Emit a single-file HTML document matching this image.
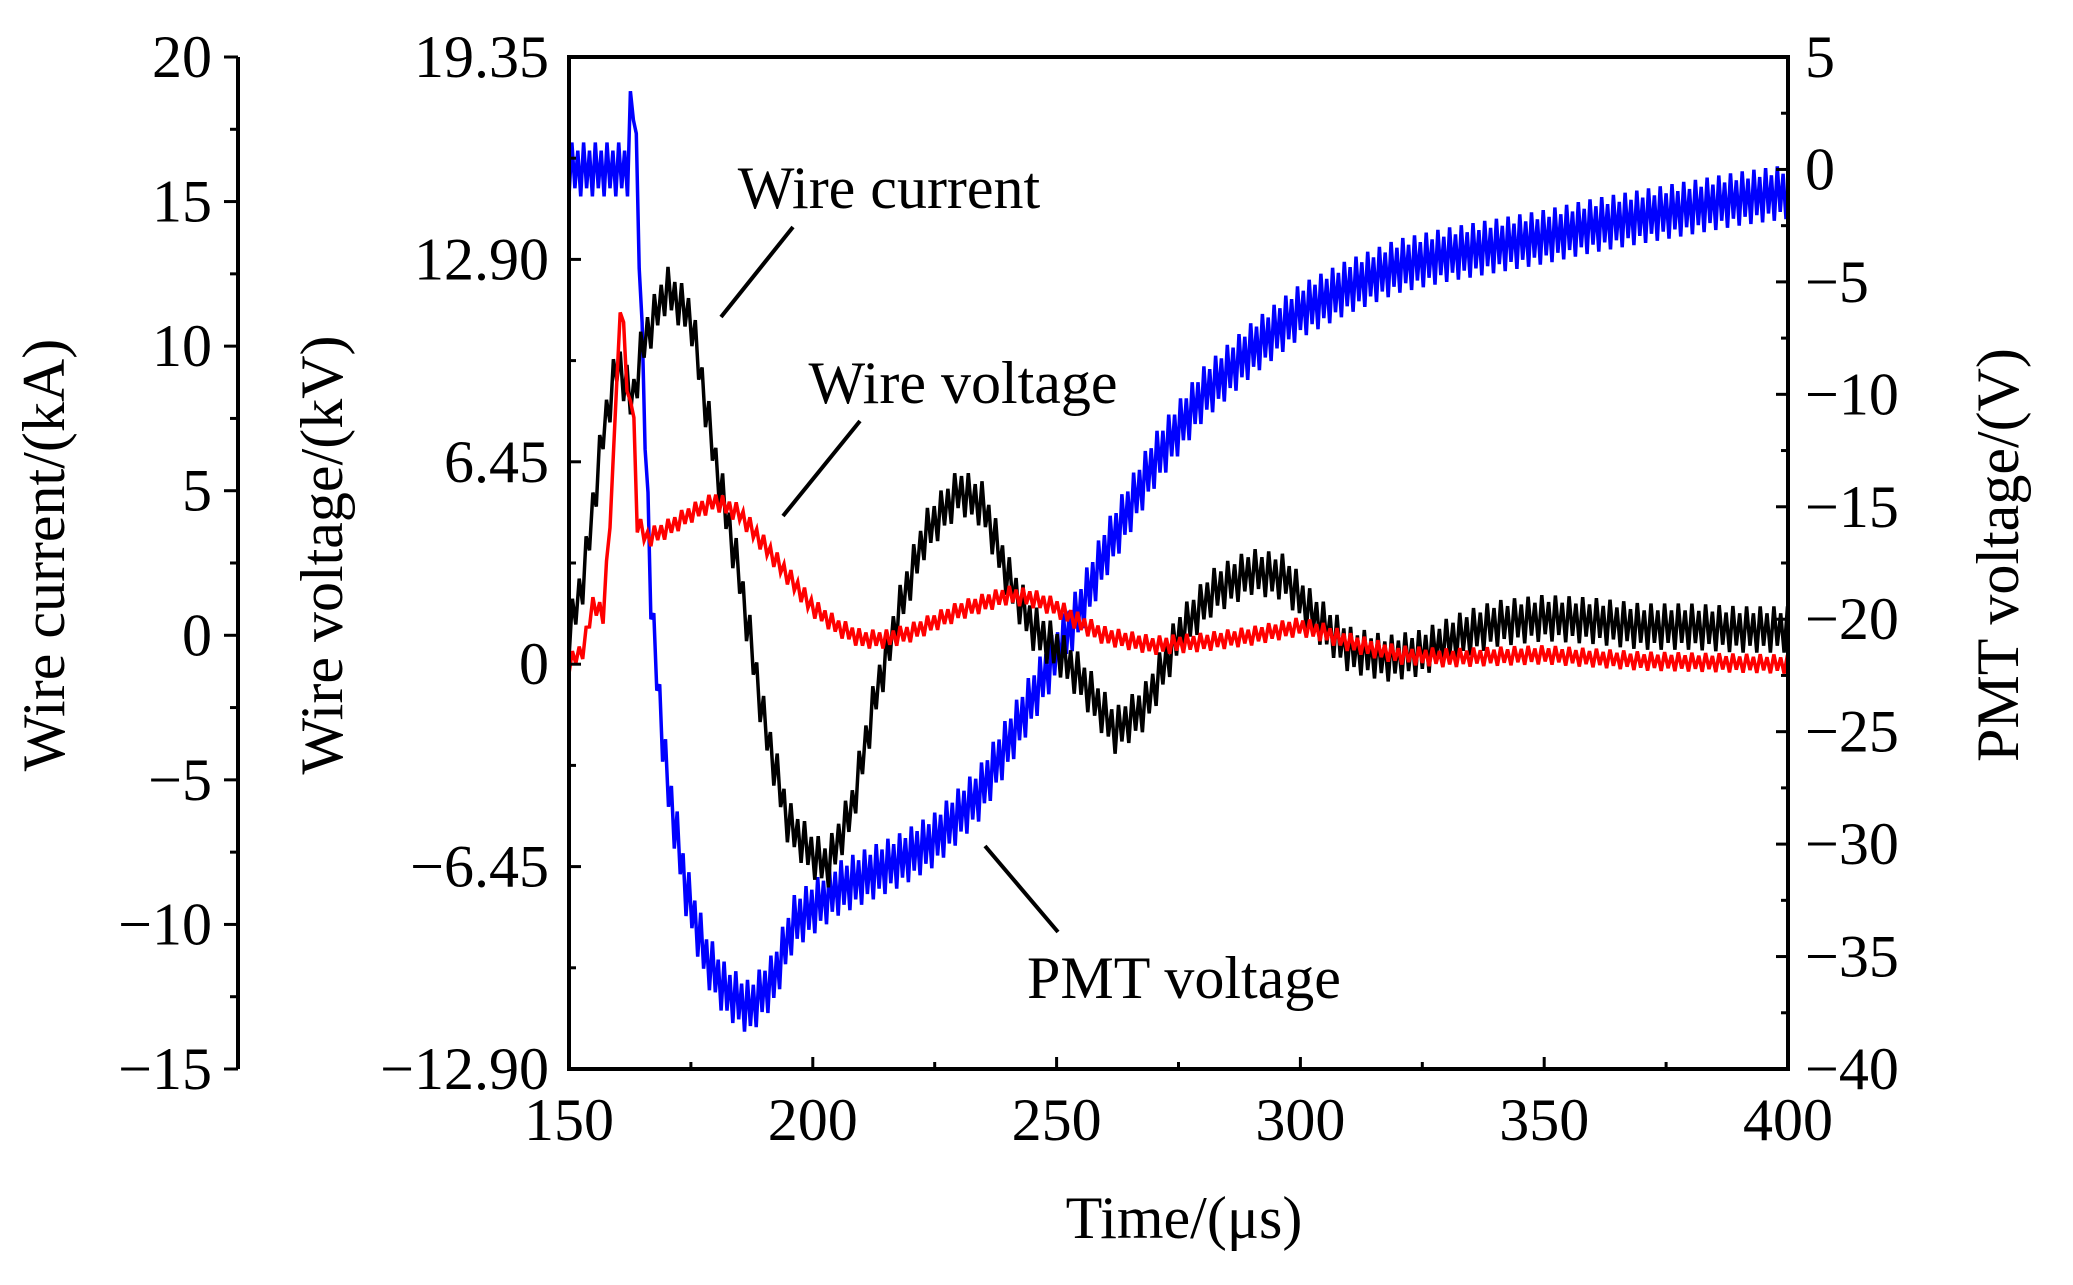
<!DOCTYPE html>
<html><head><meta charset="utf-8"><style>
html,body{margin:0;padding:0;background:#fff;}
svg{display:block;font-family:"Liberation Serif",serif;}
</style></head><body>
<svg id="chart" width="2073" height="1285" viewBox="0 0 2073 1285" xmlns="http://www.w3.org/2000/svg">
<rect x="0" y="0" width="2073" height="1285" fill="#fff"/>
<g id="series"></g>
<g id="axes"></g>
<text x="50" y="555" transform="rotate(-90 50 555)" text-anchor="middle" dominant-baseline="middle" font-size="60">Wire current/(kA)</text>
<text x="328" y="555" transform="rotate(-90 328 555)" text-anchor="middle" dominant-baseline="middle" font-size="60">Wire voltage/(kV)</text>
<text x="2004" y="555" transform="rotate(-90 2004 555)" text-anchor="middle" dominant-baseline="middle" font-size="60">PMT voltage/(V)</text>
<text x="1184" y="1238" text-anchor="middle" font-size="60">Time/(μs)</text>
<text x="889" y="208" text-anchor="middle" font-size="60">Wire current</text>
<line x1="793" y1="227" x2="721" y2="317" stroke="#000" stroke-width="4"/>
<text x="963" y="403" text-anchor="middle" font-size="60">Wire voltage</text>
<line x1="860" y1="421" x2="783" y2="516" stroke="#000" stroke-width="4"/>
<text x="1184" y="998" text-anchor="middle" font-size="60">PMT voltage</text>
<line x1="1058" y1="932" x2="985" y2="846" stroke="#000" stroke-width="4"/>
</svg>
<script>
// ---- data ----
const currentT = [150,153,157,160,163,165,170,175,180,185,190,195,200,203,208,213,218,223,230,235,240,245,250,255,262,268,275,282,290,297,302,310,318,325,333,340,350,360,370,380,390,400];
const currentV = [0,2,7,9.5,8,10,12,11,6,2,-3,-6.5,-7.6,-8,-6,-2,1,3.5,5,4.5,2,0.3,-0.5,-1.5,-3.3,-2.5,0,1.5,2.2,2,0.8,-0.5,-0.8,-0.6,0,0.4,0.6,0.5,0.3,0.3,0.2,0.2];
const currentRipple = 0.8;
const voltT = [150,153,155,157,159,160,161,162,163,164,166,170,175,180,185,190,195,200,205,210,215,220,230,240,245,250,255,260,270,280,290,300,305,310,320,330,350,370,400];
const voltV = [0,0.5,2,1.5,6,10,12,8,9,4.5,4,4.3,4.8,5.2,4.8,3.8,2.8,1.8,1.2,0.8,0.8,1.0,1.7,2.2,2.1,1.8,1.3,0.9,0.6,0.7,0.9,1.2,1.0,0.7,0.3,0.2,0.3,0.1,0];
const voltRipple = 0.3;
const pmtT = [150,162,163,164,165,167,170,174,178,182,187,192,196,205,218,225,234,240,245,250,255,260,265,270,275,280,290,300,310,320,330,340,350,360,370,380,390,400];
const pmtV = [0,0,3.8,0,-8,-20,-27,-32,-35,-36.5,-37.3,-36,-33.5,-32,-30.7,-29.8,-27.8,-25.5,-23.5,-21.5,-19.5,-17,-15,-13,-11.5,-10,-8,-6.3,-5.2,-4.3,-3.8,-3.4,-3,-2.5,-2.1,-1.7,-1.3,-1.0];
const pmtRipple = 1.2;
const xTicks = [150,200,250,300,350,400];
const currentTicks = [20,15,10,5,0,-5,-10,-15];
const voltTicks = [19.35,12.90,6.45,0,-6.45,-12.90];
const pmtTicks = [5,0,-5,-10,-15,-20,-25,-30,-35,-40];

// ---- geometry ----
const L=569,R=1788,T=57,B=1069;
const xS=t=>L+(t-150)/(250)*(R-L);
const yCur=v=>B-(v+15)/35*(B-T);
const yVolt=v=>B-(v+12.9)/32.25*(B-T);
const yPmt=v=>B-(v+40)/45*(B-T);
const NS="http://www.w3.org/2000/svg";
const sg=document.getElementById('series'), ag=document.getElementById('axes');
function mk(tag,attrs,parent){const e=document.createElementNS(NS,tag);for(const k in attrs)e.setAttribute(k,attrs[k]);parent.appendChild(e);return e;}
function interp(ts,vs,t){for(let i=1;i<ts.length;i++){if(t<=ts[i]){const f=(t-ts[i-1])/(ts[i]-ts[i-1]);return vs[i-1]+f*(vs[i]-vs[i-1]);}}return vs[vs.length-1];}
function trace(ts,vs,amp,yf,color,name,step){
  let d='';let k=0;
  for(let t=150;t<=400;t+=step){
    const v=interp(ts,vs,t)+(k%2?amp:-amp)*(k%4<2?1:0.7);
    d+=(k?'L':'M')+xS(t).toFixed(1)+' '+yf(v).toFixed(1);k++;
  }
  const p=mk('path',{d:d,fill:'none',stroke:color,'stroke-width':3.5,'stroke-linejoin':'miter'},sg);
  
  
}
trace(pmtT,pmtV,pmtRipple,yPmt,'#0000ff','pmt-voltage-line',0.6);
trace(currentT,currentV,currentRipple,yCur,'#000','wire-current-line',0.7);
trace(voltT,voltV,voltRipple,yVolt,'#ff0000','wire-voltage-line',0.7);

// frame
const fr=mk('rect',{x:L,y:T,width:R-L,height:B-T,fill:'none',stroke:'#000','stroke-width':4},ag);


// x ticks
xTicks.forEach((t,i)=>{
  const l=mk('line',{x1:xS(t),y1:B,x2:xS(t),y2:B-12,stroke:'#000','stroke-width':3},ag);
  
  
  if(i<xTicks.length-1){const m=mk('line',{x1:xS(t+25),y1:B,x2:xS(t+25),y2:B-7,stroke:'#000','stroke-width':3},ag);
  
  }
  const tx=mk('text',{x:xS(t),y:1140,'text-anchor':'middle','font-size':60},ag);
  tx.textContent=t;
  
  
});
// outer current axis
const ca=mk('line',{x1:238,y1:T,x2:238,y2:B,stroke:'#000','stroke-width':4},ag);


currentTicks.forEach((v,i)=>{
  const y=yCur(v);
  const l=mk('line',{x1:238,y1:y,x2:224,y2:y,stroke:'#000','stroke-width':3},ag);
  
  
  if(i<currentTicks.length-1){const m=mk('line',{x1:238,y1:yCur(v-2.5),x2:230,y2:yCur(v-2.5),stroke:'#000','stroke-width':3},ag);
  
  }
  const tx=mk('text',{x:212,y:y+20,'text-anchor':'end','font-size':60},ag);
  tx.textContent=String(v).replace('-','−');
  
  
});
// wire voltage axis (left of frame)
voltTicks.forEach((v,i)=>{
  const y=yVolt(v);
  const l=mk('line',{x1:L,y1:y,x2:L+12,y2:y,stroke:'#000','stroke-width':3},ag);
  
  
  if(i<voltTicks.length-1){const m=mk('line',{x1:L,y1:yVolt(v-3.225),x2:L+7,y2:yVolt(v-3.225),stroke:'#000','stroke-width':3},ag);
  
  }
  const tx=mk('text',{x:549,y:y+20,'text-anchor':'end','font-size':60},ag);
  tx.textContent=(v===0?'0':v.toFixed(2)).replace('-','−');
  
  
});
// pmt axis (right)
pmtTicks.forEach((v,i)=>{
  const y=yPmt(v);
  const l=mk('line',{x1:R,y1:y,x2:R-12,y2:y,stroke:'#000','stroke-width':3},ag);
  
  
  if(i<pmtTicks.length-1){const m=mk('line',{x1:R,y1:yPmt(v-2.5),x2:R-7,y2:yPmt(v-2.5),stroke:'#000','stroke-width':3},ag);
  
  }
  const tx=mk('text',{x:1805,y:y+20,'text-anchor':'start','font-size':60},ag);
  tx.textContent=String(v).replace('-','−');
  
  
});
</script>
</body></html>
